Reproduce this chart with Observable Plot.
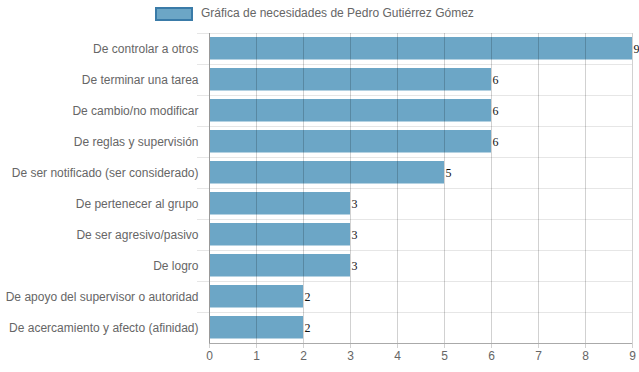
<!DOCTYPE html>
<html>
<head>
<meta charset="utf-8">
<script src="https://cdn.jsdelivr.net/npm/d3@7"></script>
<script src="https://cdn.jsdelivr.net/npm/@observablehq/plot@0.6"></script>
<style>
  html, body { margin: 0; padding: 0; background: #fff; }
  #legend { position: relative; width: 639px; height: 28px; font: 12px "Liberation Sans", Arial, sans-serif; color: #666; }
  #legend .box { position: absolute; left: 155px; top: 7px; width: 34px; height: 10px; background: #6ca6c6; border: 2px solid #3a7ba8; }
  #legend .lbl { position: absolute; left: 201px; top: 6px; white-space: nowrap; }
  svg { display: block; }
</style>
</head>
<body>
<div id="legend"><div class="box"></div><div class="lbl"></div></div>
<div id="chart"></div>
<script>
const title = "Gráfica de necesidades de Pedro Gutiérrez Gómez";
const categories = [
  "De controlar a otros",
  "De terminar una tarea",
  "De cambio/no modificar",
  "De reglas y supervisión",
  "De ser notificado (ser considerado)",
  "De pertenecer al grupo",
  "De ser agresivo/pasivo",
  "De logro",
  "De apoyo del supervisor o autoridad",
  "De acercamiento y afecto (afinidad)"
];
const values = [9, 6, 6, 6, 5, 3, 3, 3, 2, 2];
const xTicks = [0, 1, 2, 3, 4, 5, 6, 7, 8, 9];

document.querySelector("#legend .lbl").textContent = title;

const data = categories.map((c, i) => ({category: c, value: values[i]}));
const lastCat = categories[categories.length - 1];

const chart = Plot.plot({
  width: 639,
  height: 344,
  marginTop: 5,
  marginBottom: 29,
  marginLeft: 209,
  marginRight: 7,
  style: {fontFamily: "'Liberation Sans', Arial, sans-serif", fontSize: "12px", color: "#666", background: "#fff"},
  x: {domain: [0, 9], ticks: xTicks, label: null},
  y: {domain: categories, padding: 0, label: null},
  marks: [
    Plot.gridY(categories, {stroke: "#e6e6e6", strokeOpacity: 1, dy: -15.5}),
    Plot.axisY(categories, {tickSize: 12, tickFormat: () => "", stroke: "#e6e6e6", strokeOpacity: 1, dy: -15.5}),
    Plot.axisY(categories, {tickSize: 0, tickPadding: 11, fill: "#666", fontSize: 12}),
    Plot.barX(data, {x: "value", y: "category", fill: "#6ca6c6", insetTop: 4, insetBottom: 4.5}),
    Plot.gridX(xTicks, {stroke: "#000", strokeOpacity: 0.18, strokeWidth: 1}),
    Plot.axisX(xTicks, {tickSize: 5, tickPadding: 3, stroke: "#000", strokeOpacity: 0.18, fill: "#666", fontSize: 12}),
    Plot.ruleX([0], {stroke: "#999"}),
    Plot.ruleY([lastCat], {dy: 15.5, stroke: "#aaa"}),
    Plot.text(data, {x: "value", y: "category", text: d => String(d.value), textAnchor: "start", dx: 1, fill: "#111", fontFamily: "'Liberation Serif', 'Times New Roman', serif", fontSize: 12})
  ]
});
document.getElementById("chart").appendChild(chart);
</script>
</body>
</html>
